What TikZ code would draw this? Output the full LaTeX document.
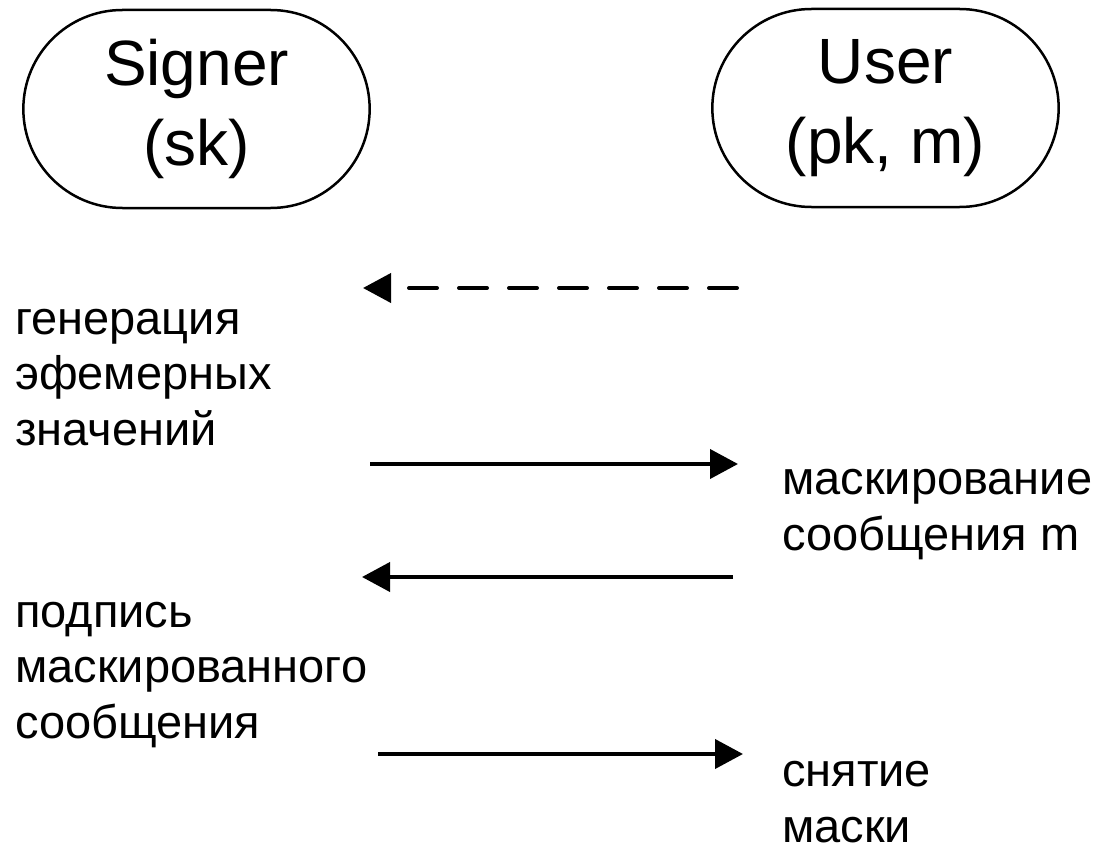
\documentclass[tikz,border=0pt]{standalone}
\usepackage{fontspec}
\setmainfont{Liberation Sans}
\usepackage{tikz}
\usetikzlibrary{arrows.meta,positioning,calc,shapes.misc}

\tikzset{
    party/.style={rounded rectangle, draw, line width=2.5pt,
        minimum width=353pt, minimum height=198pt, align=center,
        font=\fontsize{64}{80}\selectfont},
    stage/.style={anchor=base west, inner sep=0pt, align=left,
        font=\fontsize{47}{55.5}\selectfont},
    msg/.style={line width=4pt, -{Triangle[length=28pt,width=29pt]}},
    msgdash/.style={msg, line cap=round, dash pattern=on 28pt off 22pt}
}

\begin{document}
\begin{tikzpicture}[x=1pt,y=-1pt]
    \useasboundingbox (0,0) rectangle (1116,864);

    \node[party] (signer) at (196.5,109) {Signer\\(sk)};
    \node[party] (user) at (885.5,108) {User\\(pk, m)};

    % anchors sit on the last line
    \node[stage] (gen) at (15,445) {генерация\\эфемерных\\значений};
    \node[stage] (mask) at (782,550) {маскирование\\сообщения m};
    \node[stage] (sign) at (15,738) {подпись\\маскированного\\сообщения};
    \node[stage] (unmask) at (782,842) {снятие\\маски};

    \coordinate (req-start) at (737,288);
    \coordinate (req-end) at (363,288);
    \coordinate (com-start) at (370,464);
    \coordinate (com-end) at (738,464);
    \coordinate (chal-start) at (733,577);
    \coordinate (chal-end) at (362,577);
    \coordinate (resp-start) at (378,754);
    \coordinate (resp-end) at (743,754);

    \draw[msgdash] (req-start) -- (req-end);
    \draw[msg] (com-start) -- (com-end);
    \draw[msg] (chal-start) -- (chal-end);
    \draw[msg] (resp-start) -- (resp-end);
\end{tikzpicture}
\end{document}
